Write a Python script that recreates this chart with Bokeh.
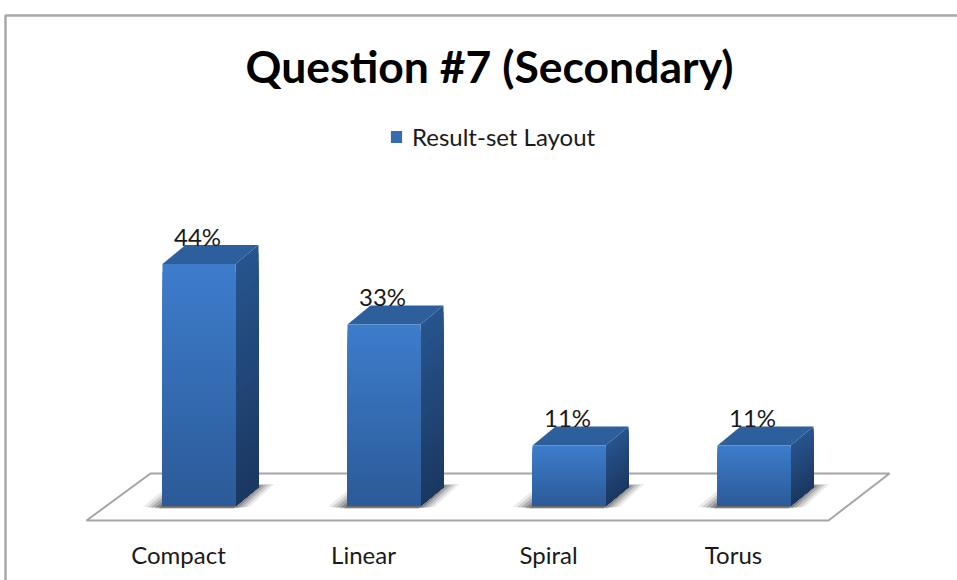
from bokeh.plotting import figure
from bokeh.embed import file_html
from bokeh.resources import INLINE
from bokeh.core.properties import value
from bokeh.models import (Range1d, FixedTicker, BoxAnnotation, Legend, LegendItem, Label)

# ---- data ----
categories = ["Compact", "Linear", "Spiral", "Torus"]
percent = [44, 33, 11, 11]
percent_labels = ["44%", "33%", "11%", "11%"]
series_name = "Result-set Layout"
title_text = "Question #7 (Secondary)"

# ---- layout constants (page pixels) ----
PX_PER_CAT = 185.0
PX_PER_PCT = 5.5
BASE_PAGE_Y = 505.5
LABEL0_PAGE_X = 178.0
CANVAS_LEFT, CANVAS_RIGHT = 0.0, 957.0
FRAME_TOP, FRAME_BOTTOM = 0.0, 580.0   # page y of plot frame
AXIS_PAGE_Y = 527.0
BAR_W = 73.0
BAR_SHIFT = 20.5
DEPTH_X, DEPTH_Y = 23.0, 19.0

def X(px):
    return px / PX_PER_CAT
def Y(px):
    return px / PX_PER_PCT

p = figure(width=957, height=580, output_backend="svg", toolbar_location=None,
           x_range=Range1d((CANVAS_LEFT - LABEL0_PAGE_X) / PX_PER_CAT, (CANVAS_RIGHT - LABEL0_PAGE_X) / PX_PER_CAT),
           y_range=Range1d((BASE_PAGE_Y - FRAME_BOTTOM) / PX_PER_PCT, (BASE_PAGE_Y - FRAME_TOP) / PX_PER_PCT),
           min_border_left=0, min_border_right=0, min_border_top=0, min_border_bottom=0)
p.outline_line_color = None
p.grid.visible = False
p.yaxis.visible = False
ax = p.xaxis[0]
ax.fixed_location = Y(BASE_PAGE_Y - AXIS_PAGE_Y)
ax.ticker = FixedTicker(ticks=list(range(len(categories))))
ax.major_label_overrides = {i: c for i, c in enumerate(categories)}
ax.major_label_text_font = "Lato"
ax.major_label_text_font_size = "24px"
ax.major_label_text_color = "#1a1a1a"
ax.axis_line_color = None
ax.major_tick_line_color = None
ax.minor_tick_line_color = None
ax.major_label_standoff = 6

# chart area border (top and left edges; rest runs off the page)
p.add_layout(BoxAnnotation(left=5, right=1200, top=15, bottom=1200,
                           left_units="canvas", right_units="canvas", top_units="canvas", bottom_units="canvas",
                           fill_alpha=0, line_color="#a8a8a8", line_alpha=1, line_width=2.5, level="overlay"))

# title
p.add_layout(Label(x=X(489 - LABEL0_PAGE_X), y=Y(BASE_PAGE_Y - 65), text=title_text,
                   text_align="center", text_baseline="middle", text_font="Lato",
                   text_font_style="bold", text_font_size="44.5px", text_color="#000000"))

n = len(categories)
# floor
front = -14.5
back = 32.5
fl_x = [X(86 - LABEL0_PAGE_X), X(150 - LABEL0_PAGE_X), X(889 - LABEL0_PAGE_X), X(828 - LABEL0_PAGE_X)]
fl_y = [Y(front), Y(back), Y(back), Y(front)]
p.patch(fl_x, fl_y, fill_color="white", line_color="#a6a6a6", line_width=2)

# shadows
for inset, alpha in [(0, .08), (4, .12), (8, .16), (12, .20), (16, .24)]:
    xs, ys = [], []
    for i in range(n):
        c = i + X(BAR_SHIFT)
        l, r = c - X(BAR_W / 2), c + X(BAR_W / 2)
        xs.append([l + X(-20 + inset), l + X(8 + inset), r + X(39 - inset), r + X(14 - inset)])
        ys.append([Y(-1 - inset * .1), Y(22 - inset * .1), Y(22 - inset * .1), Y(-1 - inset * .1)])
    p.patches(xs, ys, fill_color="#000000", fill_alpha=alpha, line_color=None)

def lerp(a, b, t):
    return "#%02x%02x%02x" % tuple(round(a[k] + (b[k] - a[k]) * t) for k in range(3))

FRONT_TOP, FRONT_BOT = (61, 124, 203), (44, 91, 153)
SIDE_TOP, SIDE_BOT = (39, 84, 141), (27, 56, 98)
TOP_FACE = "#2c5f9c"
STRIPS = 30

fl, fr, ft, fb, fc = [], [], [], [], []
sx, sy, sc = [], [], []
tx, ty = [], []
for i, v in enumerate(percent):
    c = i + X(BAR_SHIFT)
    l, r = c - X(BAR_W / 2), c + X(BAR_W / 2)
    for s in range(STRIPS):
        # each strip reaches down to the base; the next one paints over it, so no seams show
        y1 = v * (1 - s / STRIPS)
        t = s / (STRIPS - 1)
        fl.append(l); fr.append(r); ft.append(y1); fb.append(0); fc.append(lerp(FRONT_TOP, FRONT_BOT, t))
        sx.append([r, r + X(DEPTH_X), r + X(DEPTH_X), r])
        sy.append([y1, y1 + Y(DEPTH_Y), Y(DEPTH_Y), 0])
        sc.append(lerp(SIDE_TOP, SIDE_BOT, t))
    tx.append([l, l + X(DEPTH_X), r + X(DEPTH_X), r])
    ty.append([v, v + Y(DEPTH_Y), v + Y(DEPTH_Y), v])

p.patches(sx, sy, fill_color=sc, line_color=None)
p.patches(tx, ty, fill_color=TOP_FACE, line_color=None)
front_r = p.quad(left=fl, right=fr, top=ft, bottom=fb, fill_color=fc, line_color=None)

# data labels
p.text(x=[i + X(19.0) for i in range(n)], y=percent, text=percent_labels, y_offset=-28,
       text_align="center", text_baseline="middle", text_font=value("Lato"),
       text_font_size="24px", text_color="#1a1a1a")

# legend (offset measured from the bottom of the frame)
leg = Legend(items=[LegendItem(label=series_name, renderers=[front_r], index=15)],
             location=(389, int(FRAME_BOTTOM - AXIS_PAGE_Y) + 376), orientation="horizontal",
             background_fill_alpha=0, border_line_color=None,
             label_text_font="Lato", label_text_font_size="24px", label_text_color="#1a1a1a",
             glyph_width=14, glyph_height=15, label_standoff=9, padding=0, margin=0)
p.add_layout(leg, "center")

open("out.html", "w").write(file_html(p, INLINE))
